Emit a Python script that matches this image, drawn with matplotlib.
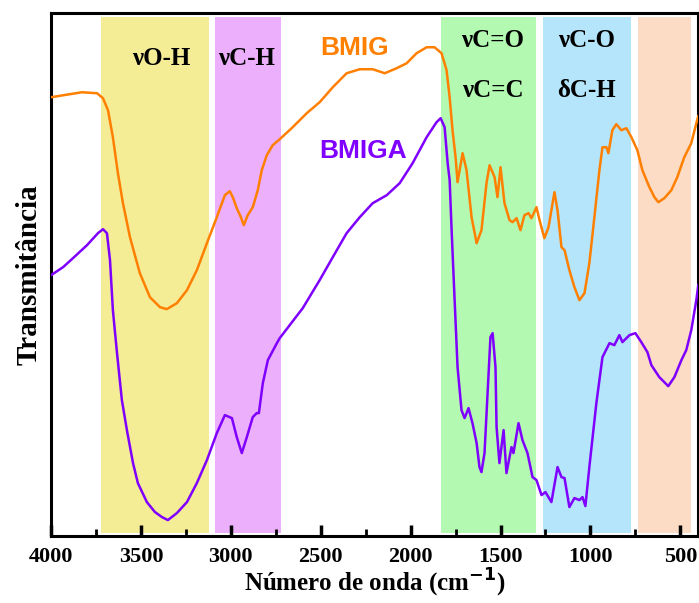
import matplotlib
matplotlib.use('Agg')
import matplotlib.pyplot as plt
from matplotlib.ticker import MultipleLocator
import numpy as np

# FTIR spectra (wavenumber in cm-1, transmittance in arbitrary units)
bmig_wn = [4000, 3828, 3744, 3711, 3683, 3656, 3628, 3600, 3561, 3506, 3450, 3394, 3356, 3300,
           3244, 3189, 3133, 3078, 3033, 3006, 2989, 2967, 2944, 2928, 2906, 2878, 2850, 2828,
           2800, 2767, 2728, 2656, 2578, 2506, 2433, 2356, 2283, 2211, 2144, 2078, 2022, 1967,
           1911, 1867, 1828, 1800, 1783, 1767, 1750, 1739, 1711, 1689, 1661, 1633, 1606, 1578,
           1561, 1533, 1517, 1500, 1478, 1450, 1433, 1411, 1389, 1367, 1344, 1328, 1300, 1283,
           1256, 1233, 1200, 1183, 1161, 1144, 1117, 1089, 1061, 1033, 1006, 978, 950, 933, 911,
           900, 878, 856, 828, 800, 772, 739, 711, 672, 644, 622, 589, 550, 517, 478, 439, 411, 400]
bmig_t = [439, 444, 443, 438, 426, 399, 363, 333, 299, 263, 239, 229, 227, 233,
          246, 266, 293, 319, 341, 345, 339, 328, 319, 311, 321, 329, 346, 366,
          381, 391, 397, 409, 423, 434, 449, 463, 467, 467, 463, 468, 473, 483,
          489, 489, 483, 466, 439, 406, 379, 354, 383, 366, 319, 293, 306, 353,
          371, 359, 339, 369, 333, 316, 314, 318, 306, 321, 323, 318, 329, 316,
          298, 309, 344, 326, 289, 286, 266, 249, 236, 243, 273, 319, 366, 389, 389,
          383, 406, 412, 406, 408, 399, 386, 366, 349, 339, 334, 338, 346, 359, 379, 393, 413, 420]

bmiga_wn = [4000, 3933, 3878, 3800, 3739, 3711, 3689, 3672, 3656, 3633, 3606, 3578, 3544, 3517,
            3467, 3422, 3383, 3350, 3300, 3244, 3189, 3133, 3078, 3033, 2994, 2967, 2939, 2911,
            2878, 2856, 2844, 2822, 2794, 2744, 2728, 2600, 2506, 2433, 2356, 2283, 2211, 2133,
            2061, 1989, 1911, 1856, 1833, 1811, 1794, 1783, 1772, 1756, 1739, 1717, 1700, 1678,
            1656, 1633, 1617, 1606, 1589, 1572, 1556, 1544, 1528, 1522, 1506, 1483, 1467, 1439,
            1428, 1400, 1378, 1350, 1322, 1300, 1272, 1250, 1217, 1183, 1161, 1144, 1117, 1089,
            1061, 1044, 1028, 1006, 967, 933, 894, 867, 839, 822, 783, 750, 717, 683, 661, 617,
            567, 533, 494, 467, 439, 411, 400]
bmiga_t = [261, 269, 278, 291, 303, 307, 303, 276, 226, 183, 136, 106, 73, 53,
           34, 24, 19, 16, 23, 34, 53, 76, 103, 121, 118, 99, 83, 99,
           119, 123, 123, 153, 176, 193, 198, 228, 256, 279, 303, 319, 333, 341,
           353, 373, 399, 414, 418, 409, 373, 356, 306, 239, 169, 126, 118, 128,
           113, 93, 69, 64, 83, 143, 199, 203, 169, 109, 73, 106, 63, 89,
           83, 113, 96, 83, 59, 56, 41, 44, 34, 69, 59, 58, 29, 38,
           36, 39, 30, 69, 133, 179, 193, 191, 201, 194, 201, 203, 194, 184, 171, 159,
           150, 159, 176, 186, 206, 236, 251]

# Assignment bands (cm-1) and labels
band_ranges = [(3720, 3120), (3090, 2720), (1833, 1300), (1261, 772), (733, 439)]
band_colors = ['#F5EC96', '#ECAFFB', '#B4F9B2', '#B4E5FA', '#FCDCC4']
band_labels = [('νO-H', 3389, 478), ('νC-H', 2911, 478),
               ('νC=O', 1544, 496), ('νC=C', 1544, 446),
               ('νC-O', 1022, 496), ('δC-H', 1022, 446)]

fig = plt.figure(figsize=(6.99, 6.03), dpi=100)
ax = fig.add_axes([0.073, 0.111, 0.926, 0.867])

for (x0, x1), c in zip(band_ranges, band_colors):
    ax.axvspan(x1, x0, ymin=0.006, ymax=0.992, color=c, lw=0, zorder=0)

ax.plot(bmig_wn, bmig_t, color='#FF7F00', lw=1.8, zorder=3)
ax.plot(bmiga_wn, bmiga_t, color='#7F00FF', lw=1.8, zorder=3)

serif = 'Liberation Serif'
for txt, x, y in band_labels:
    ax.text(x, y, txt, ha='center', va='center', fontsize=18, fontweight='bold',
            family=serif, zorder=4)

ax.text(2311, 488, 'BMIG', color='#FF7F00', ha='center', va='center', fontsize=19,
        fontweight='bold', family='Liberation Sans')
ax.text(2267, 385, 'BMIGA', color='#7F00FF', ha='center', va='center', fontsize=19,
        fontweight='bold', family='Liberation Sans')

ax.set_xlim(4000, 400)
ax.set_ylim(0, 523)
ax.set_yticks([])
ax.xaxis.set_major_locator(MultipleLocator(500))
ax.xaxis.set_minor_locator(MultipleLocator(250))
ax.tick_params(axis='x', which='major', direction='in', length=8, width=2.5, pad=8)
ax.tick_params(axis='x', which='minor', direction='in', length=5, width=2)
for lab in ax.get_xticklabels():
    lab.set_family(serif)
    lab.set_fontweight('bold')
    lab.set_fontsize(16)
for s in ax.spines.values():
    s.set_linewidth(2.2)

ax.set_xlabel('Número de onda (cm$^{\\mathbf{-1}}$)', family=serif, fontweight='bold',
              fontsize=18, labelpad=0)
ax.set_ylabel('Transmitância', family=serif, fontweight='bold', fontsize=21, labelpad=6)

fig.savefig('out.png', dpi=100)
plt.close(fig)
